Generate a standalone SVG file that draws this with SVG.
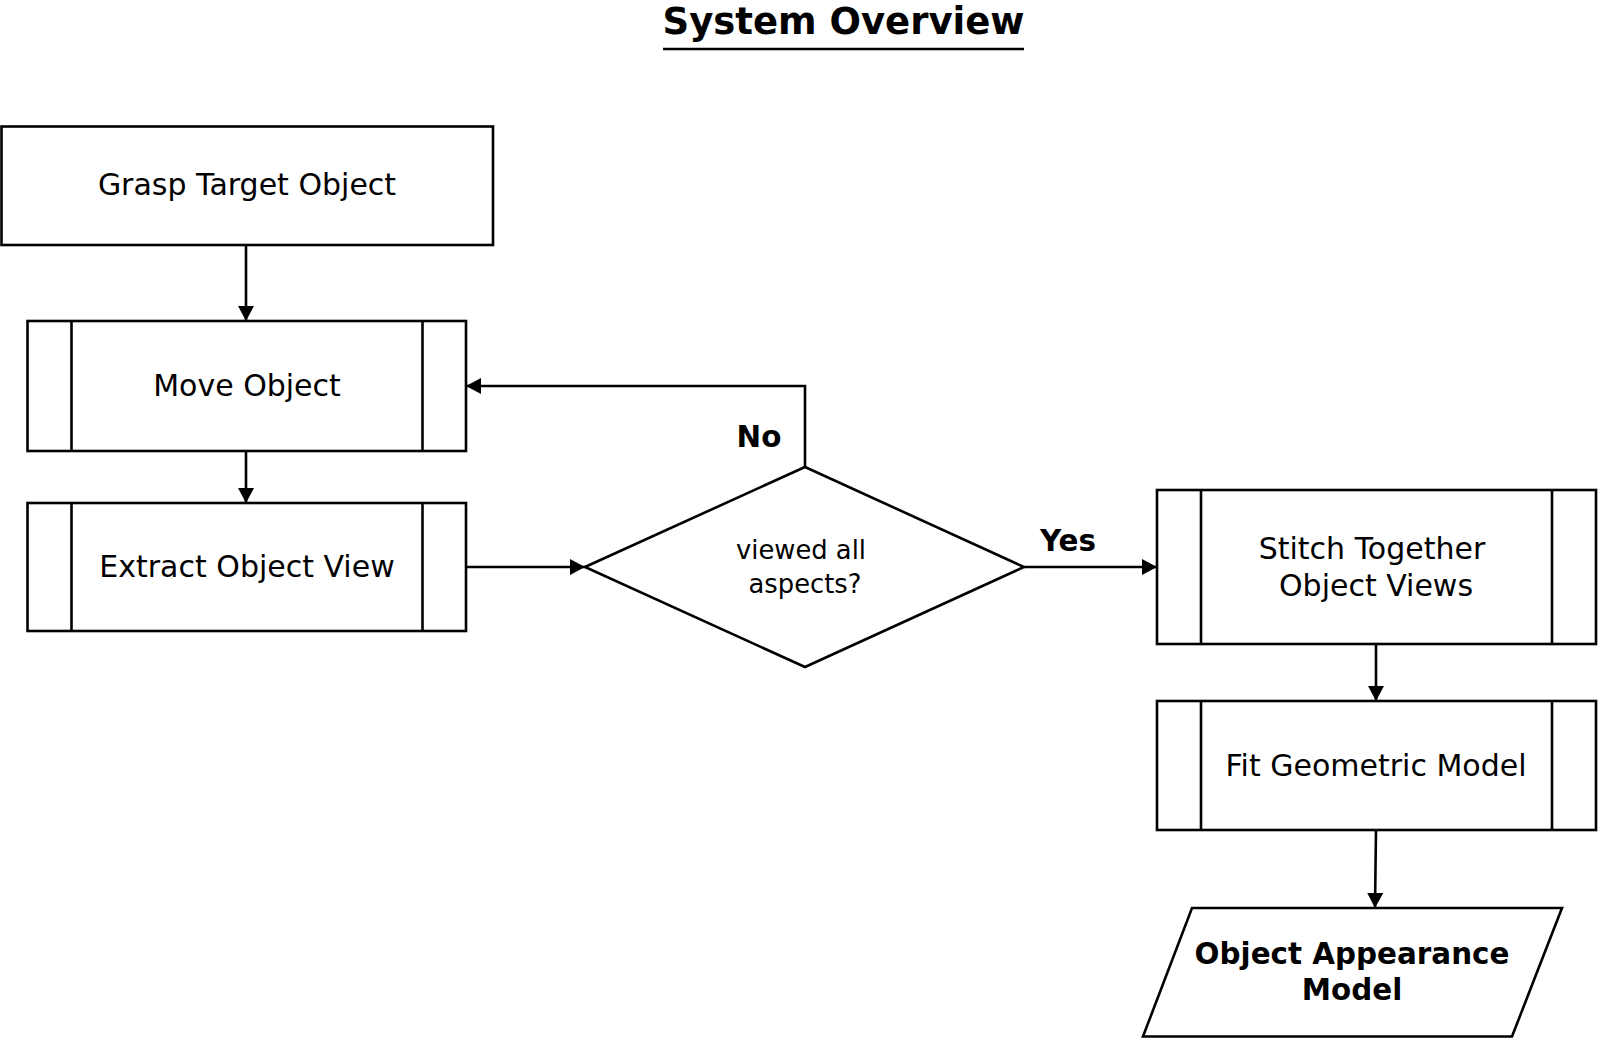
<svg xmlns="http://www.w3.org/2000/svg" width="1600" height="1039" viewBox="0 0 1600 1039">
<style>
.box{fill:#fff;stroke:#000;stroke-width:2.6}
.ln{fill:none;stroke:#000;stroke-width:2.6}
.t{font-family:"DejaVu Sans",Verdana,sans-serif;font-size:30px;text-anchor:middle;fill:#000}
.b{font-family:"DejaVu Sans",Verdana,sans-serif;font-weight:bold;font-size:29.4px;text-anchor:middle;fill:#000}
.s{font-family:"DejaVu Sans",Verdana,sans-serif;font-size:25.8px;text-anchor:middle;fill:#000}
.c{fill:none;stroke:#000;stroke-width:2.6}
</style>
<defs>
<marker id="ah" markerUnits="userSpaceOnUse" markerWidth="18" markerHeight="18" refX="15" refY="8" orient="auto">
<path d="M0,0 L15,8 L0,16 z" fill="#000"/>
</marker>
</defs>
<rect width="1600" height="1039" fill="#fff"/>
<g id="title">
<text x="843.5" y="34" class="b" style="font-size:37px">System Overview</text>
<line x1="663" y1="49" x2="1024" y2="49" stroke="#000" stroke-width="2.5"/>
</g>
<g id="connectors">
<path class="c" d="M246,245 V321" marker-end="url(#ah)"/>
<path class="c" d="M246,451 V503" marker-end="url(#ah)"/>
<path class="c" d="M466,567 H585" marker-end="url(#ah)"/>
<path class="c" d="M805,467 V386 H466" marker-end="url(#ah)"/>
<path class="c" d="M1024,567 H1157" marker-end="url(#ah)"/>
<path class="c" d="M1376,644 V701" marker-end="url(#ah)"/>
<path class="c" d="M1376,830 L1375,908" marker-end="url(#ah)"/>
<text x="759" y="447" class="b">No</text>
<text x="1068" y="551" class="b">Yes</text>
</g>
<g id="grasp">
<rect class="box" x="1.5" y="126.5" width="491.5" height="118.5"/>
<text x="247" y="195" class="t">Grasp Target Object</text>
</g>
<g id="move">
<rect class="box" x="27.5" y="321" width="438.5" height="130"/>
<line class="ln" x1="71.5" y1="321" x2="71.5" y2="451"/>
<line class="ln" x1="422.5" y1="321" x2="422.5" y2="451"/>
<text x="247" y="396" class="t">Move Object</text>
</g>
<g id="extract">
<rect class="box" x="27.5" y="503" width="438.5" height="128"/>
<line class="ln" x1="71.5" y1="503" x2="71.5" y2="631"/>
<line class="ln" x1="422.5" y1="503" x2="422.5" y2="631"/>
<text x="247" y="577" class="t">Extract Object View</text>
</g>
<g id="decision">
<polygon class="box" points="585,567 805,467 1024,567 805,667"/>
<text x="801" y="559" class="s">viewed all</text>
<text x="805" y="593" class="s">aspects?</text>
</g>
<g id="stitch">
<rect class="box" x="1157" y="490" width="439" height="154"/>
<line class="ln" x1="1201" y1="490" x2="1201" y2="644"/>
<line class="ln" x1="1552" y1="490" x2="1552" y2="644"/>
<text x="1372" y="559" class="t">Stitch Together</text>
<text x="1376" y="596" class="t">Object Views</text>
</g>
<g id="fit">
<rect class="box" x="1157" y="701" width="439" height="129"/>
<line class="ln" x1="1201" y1="701" x2="1201" y2="830"/>
<line class="ln" x1="1552" y1="701" x2="1552" y2="830"/>
<text x="1376" y="776" class="t">Fit Geometric Model</text>
</g>
<g id="output">
<polygon class="box" points="1192,908 1562,908 1512,1036.5 1143,1036.5"/>
<text x="1352" y="964" class="b">Object Appearance</text>
<text x="1352" y="1000" class="b">Model</text>
</g>
</svg>
